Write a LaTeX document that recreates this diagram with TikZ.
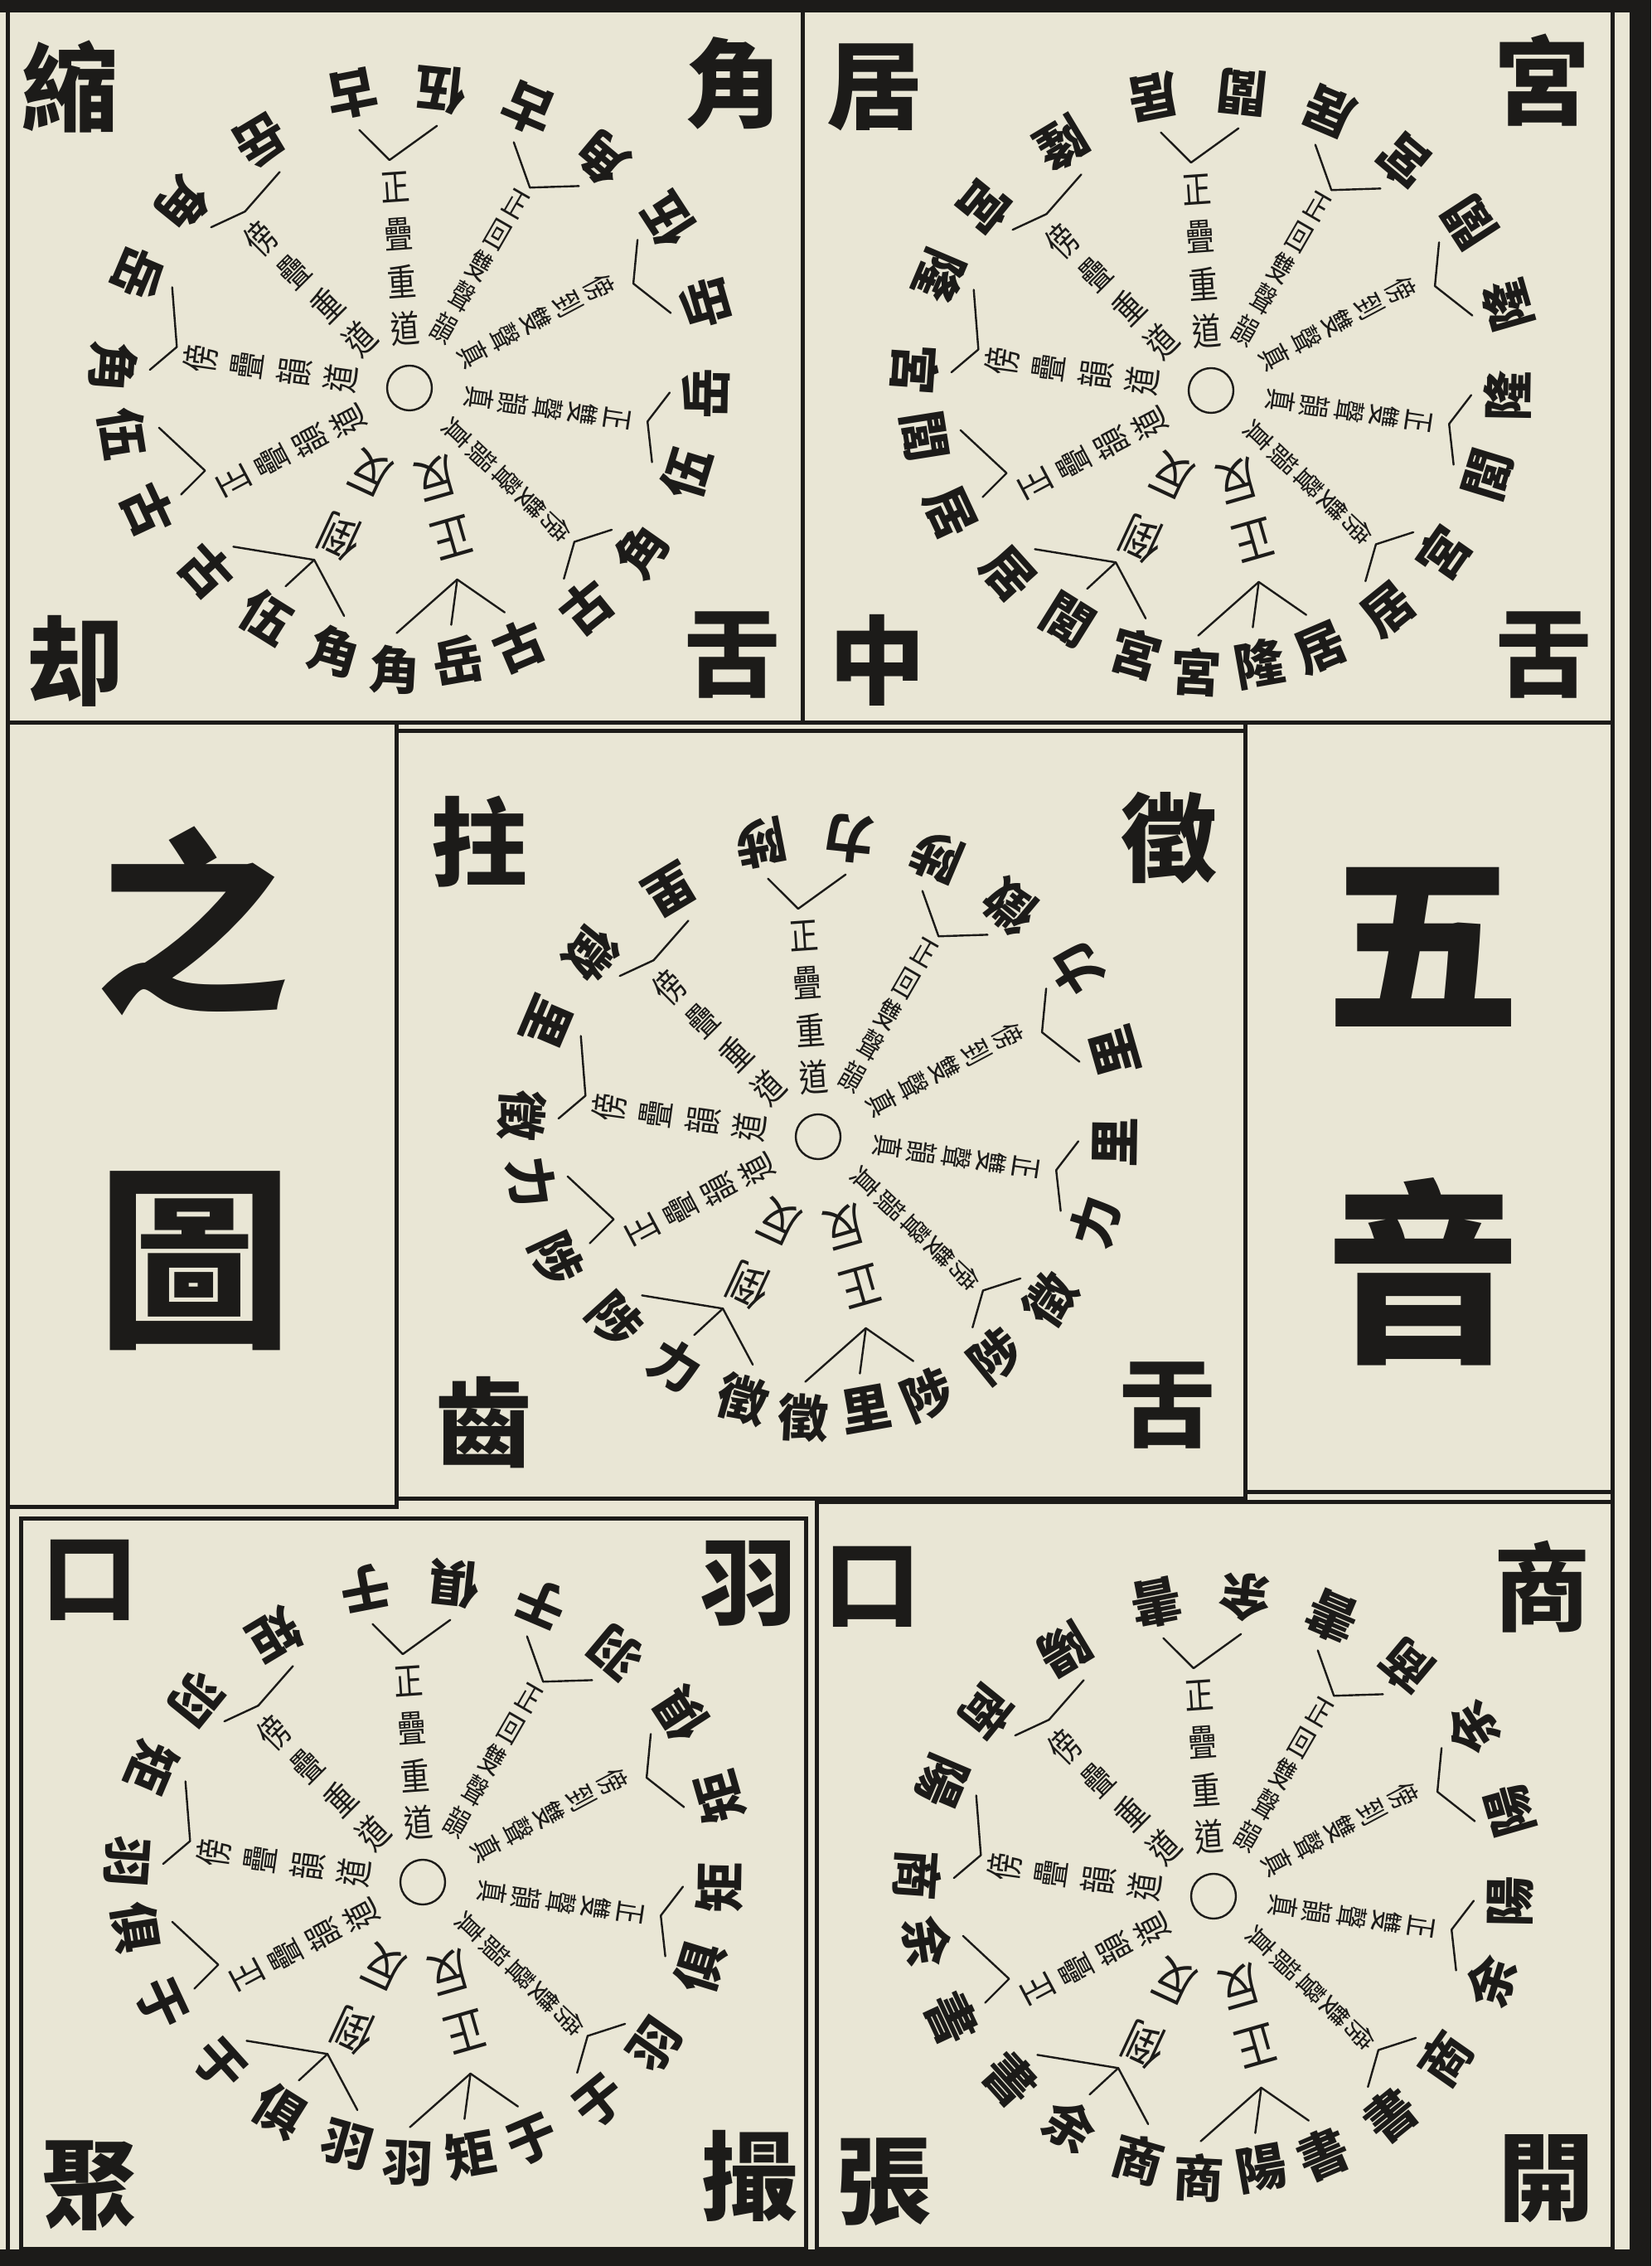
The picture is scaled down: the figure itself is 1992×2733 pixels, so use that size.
\documentclass[tikz,border=0pt]{standalone}
\usepackage{fontspec}
\newfontfamily\cjk{Noto Sans CJK TC}
\definecolor{paper}{RGB}{233,230,213}
\definecolor{ink}{RGB}{28,27,25}
\tikzset{
  ringch/.style={inner sep=0pt, text=ink, font=\cjk\bfseries\fontsize{61}{61}\selectfont},
  labA/.style={inner sep=0pt, text=ink, font=\cjk\fontsize{45}{45}\selectfont},
  labB/.style={inner sep=0pt, text=ink, font=\cjk\fontsize{39}{39}\selectfont},
  labC/.style={inner sep=0pt, text=ink, font=\cjk\fontsize{58}{58}\selectfont},
  armline/.style={draw=ink, line width=2.4pt, line cap=round},
  frameline/.style={draw=ink, line width=5pt},
  bigch/.style={inner sep=0pt, text=ink, font=\cjk\bfseries\fontsize{116}{116}\selectfont},
  hugech/.style={inner sep=0pt, text=ink, font=\cjk\bfseries\fontsize{235}{235}\selectfont},
}
% label along a ray: style, angle, outer radius, step, tangential scale, chars
\newcommand\Lab[6]{%
  \foreach \ch [count=\k from 0] in {#6} {
    \node[#1, rotate=#2-90, xscale=#5] at (#2:{#3-\k*#4}) {\ch};
  }}
% outer ring character: angle, radius, char
\newcommand\Oc[3]{\node[ringch, rotate=#1+90] at (#1:#2) {#3};}
% bracket arm: apex angle, apex radius, char angle, char radius
\newcommand\Arm[4]{\draw[armline] (#1:#2) -- (#3:{#4-44});}
% two-pronged bracket with its characters
\newcommand\Br[8]{\Arm{#1}{#2}{#3}{#4}\Arm{#1}{#2}{#6}{#7}\Oc{#3}{#4}{#5}\Oc{#6}{#7}{#8}}
% one wheel: cx, cy, A, B, C, D
\newcommand\Panel[6]{%
  \begin{scope}[shift={(#1,#2)}]
    \draw[armline] (0,0) circle[radius=27pt];
    \Lab{labA}{94}{243}{57}{0.78}{正,疊,重,道}
    \Lab{labB}{60}{256}{43}{0.7}{正,回,雙,聲,韻}
    \Lab{labB}{28}{259}{43}{0.7}{傍,到,雙,聲,真}
    \Lab{labB}{-8.5}{253}{42}{0.7}{正,雙,聲,韻,真}
    \Lab{labB}{-43.5}{244}{41}{0.7}{傍,雙,聲,韻,真}
    \Lab{labC}{-74}{188}{75}{0.85}{正,反}
    \Lab{labC}{-115}{198}{85}{0.85}{倒,反}
    \Lab{labA}{-152}{240}{52}{0.74}{正,疊,韻,道}
    \Lab{labA}{172}{255}{57}{0.74}{傍,疊,韻,道}
    \Lab{labA}{135}{255}{57}{0.74}{傍,疊,重,道}
    \Br{95}{276}{101}{361}{#3}{84}{362}{#4}
    \Br{59}{282}{67}{366}{#3}{50}{362}{#5}
    \Br{25}{298}{33}{372}{#4}{16}{372}{#6}
    \Br{-8}{290}{-1}{358}{#6}{-17}{350}{#4}
    \Br{-43}{272}{-35}{342}{#5}{-51}{340}{#3}
    \Br{-76}{238}{-67}{338}{#3}{-93}{340}{#5}
    \Arm{-76}{238}{-80}{334}\Oc{-80}{334}{#6}
    \Br{-119}{237}{-106}{330}{#5}{-138}{330}{#3}
    \Arm{-119}{237}{-122}{326}\Oc{-122}{326}{#4}
    \Br{-158}{266}{-155}{348}{#3}{-171}{350}{#4}
    \Br{170}{285}{176}{358}{#5}{157}{355}{#6}
    \Br{133}{291}{141}{352}{#5}{121}{348}{#6}
  \end{scope}}

\begin{document}
\begin{tikzpicture}[x=1pt,y=1pt]
\useasboundingbox (0,0) rectangle (1992,2733);
\fill[paper] (0,0) rectangle (1992,2733);
% outer frame
\fill[ink] (0,2718) rectangle (1992,2733);
\fill[ink] (0,0) rectangle (1992,20);
\fill[ink] (1966,0) rectangle (1992,2733);
\draw[frameline] (9,20) -- (9,2718);
\draw[frameline] (1945,20) -- (1945,2718);
% top row
\draw[frameline] (968,2718) -- (968,1861);
\draw[frameline] (9,1861) -- (1945,1861);
% middle row
\draw[frameline] (478,1861) -- (478,915) -- (9,915);
\draw[frameline] (478,925) rectangle (1502,1851);
\draw[frameline] (1502,1861) -- (1502,933) -- (1945,933);
% bottom row
\draw[frameline] (25,20) rectangle (972,901);
\draw[frameline] (985,20) rectangle (1945,921);

% wheels
\Panel{494}{2265}{古}{伍}{角}{岳}
\Panel{1461}{2262}{居}{閭}{宮}{隆}
\Panel{987}{1362}{陟}{力}{徵}{里}
\Panel{510}{463}{于}{俱}{羽}{矩}
\Panel{1464}{446}{書}{余}{商}{陽}

% corner characters
\node[bigch] (jsu) at (84,2628) {縮};
\node[bigch] (jjiao) at (885,2633) {角};
\node[bigch] (jque) at (90,1936) {却};
\node[bigch] (jshe) at (883,1943) {舌};
\node[bigch] (gju) at (1055,2628) {居};
\node[bigch] (ggong) at (1860,2636) {宮};
\node[bigch] (gzhong) at (1058,1937) {中};
\node[bigch] (gshe) at (1862,1943) {舌};
\node[bigch] (zzhu) at (578,1718) {拄};
\node[bigch] (zzhi) at (1410,1722) {徵};
\node[bigch] (zchi) at (583,1017) {齒};
\node[bigch] (zshe) at (1408,1038) {舌};
\node[bigch] (ykou) at (108,827) {口};
\node[bigch] (yyu) at (903,823) {羽};
\node[bigch] (yju) at (108,97) {聚};
\node[bigch] (ycuo) at (904,109) {撮};
\node[bigch] (skou) at (1052,819) {口};
\node[bigch] (sshang) at (1860,819) {商};
\node[bigch] (szhang) at (1066,101) {張};
\node[bigch] (skai) at (1865,105) {開};
% title characters
\node[hugech] (zhi) at (232,1622) {之};
\node[hugech] (tu) at (235,1212) {圖};
\node[hugech] (wu) at (1717,1591) {五};
\node[hugech] (yin) at (1717,1199) {音};
\end{tikzpicture}
\end{document}
